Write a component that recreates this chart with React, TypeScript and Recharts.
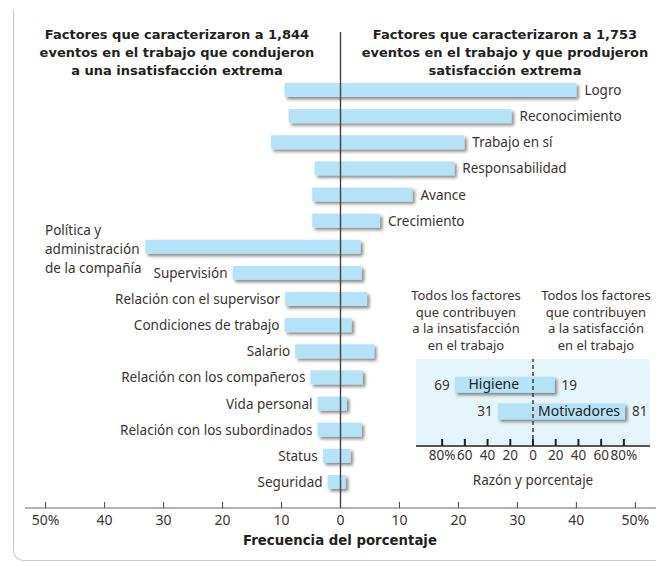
import React from 'react';
import { BarChart, Bar, XAxis, YAxis, ReferenceLine, LabelList, CartesianGrid } from 'recharts';

const FONT = '"Noto Sans", sans-serif';
const TITLE_FONT = '"DejaVu Sans", sans-serif';
const TEXT = '#3a3431';
const BAR = '#b5e2f6';

const factors = [
  'Logro',
  'Reconocimiento',
  'Trabajo en sí',
  'Responsabilidad',
  'Avance',
  'Crecimiento',
  'Política y administración de la compañía',
  'Supervisión',
  'Relación con el supervisor',
  'Condiciones de trabajo',
  'Salario',
  'Relación con los compañeros',
  'Vida personal',
  'Relación con los subordinados',
  'Status',
  'Seguridad',
];
// % of events leading to extreme dissatisfaction (drawn to the left)
const dissatisfaction = [9.5, 8.8, 11.8, 4.4, 4.8, 4.8, 33.1, 18.3, 9.4, 9.5, 7.7, 5.1, 3.9, 3.9, 3.0, 2.2];
// % of events leading to extreme satisfaction (drawn to the right)
const satisfaction = [40, 29, 21, 19.3, 12.2, 6.7, 3.4, 3.6, 4.5, 1.9, 5.7, 3.8, 1.1, 3.6, 1.7, 0.9];
const labelSide = [
  'right', 'right', 'right', 'right', 'right', 'right',
  'wrap', 'left', 'left', 'left', 'left', 'left', 'left', 'left', 'left', 'left',
];
const wrappedLabel = ['Política y', 'administración', 'de la compañía'];
const mainTicks = [-50, -40, -30, -20, -10, 0, 10, 20, 30, 40, 50];

const summaryGroups = ['Higiene', 'Motivadores'];
const summaryDis = [69, 31];
const summarySat = [19, 81];
const summaryTicks = [-80, -60, -40, -20, 0, 20, 40, 60, 80];

const leftTitle = ['Factores que caracterizaron a 1,844', 'eventos en el trabajo que condujeron', 'a una insatisfacción extrema'];
const rightTitle = ['Factores que caracterizaron a 1,753', 'eventos en el trabajo y que produjeron', 'satisfacción extrema'];
const leftNote = ['Todos los factores', 'que contribuyen', 'a la insatisfacción', 'en el trabajo'];
const rightNote = ['Todos los factores', 'que contribuyen', 'a la satisfacción', 'en el trabajo'];

const mainData = factors.map((name, i) => ({
  name,
  range: [-dissatisfaction[i], satisfaction[i]],
}));

const summaryData = summaryGroups.map((name, i) => ({
  name,
  range: [-summaryDis[i], summarySat[i]],
}));

const box = (props: any) => {
  const vb = props.viewBox && props.viewBox.width !== undefined ? props.viewBox : props;
  return { x: Number(vb.x), y: Number(vb.y), width: Number(vb.width), height: Number(vb.height) };
};

const ShadowBar = (props: any) => {
  const { x, y, width, height } = props;
  return <rect x={x} y={y} width={width} height={height} fill={BAR} filter="url(#barShadow)" />;
};

const FactorLabel = (props: any) => {
  const { x, y, width, height } = box(props);
  const i = factors.indexOf(props.value);
  const cy = y + height / 2;
  const common = { fontFamily: FONT, fontSize: 13.5, fill: TEXT, dominantBaseline: 'central' as const };
  if (labelSide[i] === 'right') {
    return <text x={x + width + 8} y={cy} {...common}>{props.value}</text>;
  }
  if (labelSide[i] === 'wrap') {
    return (
      <text x={45} y={cy} {...common}>
        {wrappedLabel.map((l, k) => (
          <tspan key={k} x={45} y={cy - 17 + k * 19}>{l}</tspan>
        ))}
      </text>
    );
  }
  return <text x={x - 5} y={cy} textAnchor="end" {...common}>{props.value}</text>;
};

const SummaryLabel = (props: any) => {
  const { x, y, width, height } = box(props);
  const i = summaryGroups.indexOf(props.value);
  const cy = y + height / 2;
  const dis = summaryDis[i];
  const sat = summarySat[i];
  const zero = x + (width * dis) / (dis + sat);
  const mid = dis > sat ? (x + zero) / 2 : (zero + x + width) / 2;
  const common = { fontFamily: FONT, fontSize: 13.5, fill: TEXT, dominantBaseline: 'central' as const };
  return (
    <g>
      <text x={x - 5} y={cy} textAnchor="end" {...common}>{dis}</text>
      <text x={mid} y={cy - 1} textAnchor="middle" {...common} fontSize={14} fill="#222">{props.value}</text>
      <text x={x + width + 7} y={cy} {...common}>{sat}</text>
    </g>
  );
};

const MainTick = (props: any) => {
  const v = props.payload.value;
  const label = Math.abs(v) === 50 ? '50%' : String(Math.abs(v));
  return (
    <text x={props.x} y={props.y + 23} textAnchor="middle" fontFamily={FONT} fontSize={14} fill={TEXT}>
      {label}
    </text>
  );
};

const SummaryTick = (props: any) => {
  const v = props.payload.value;
  const label = Math.abs(v) === 80 ? '80%' : String(Math.abs(v));
  return (
    <text x={props.x} y={props.y + 21} textAnchor="middle" fontFamily={FONT} fontSize={13.5} fill={TEXT}>
      {label}
    </text>
  );
};

const Lines = ({ lines, x, y, step, bold, size, font }: any) => (
  <text x={x} y={y} textAnchor="middle" fontFamily={font || FONT} fontSize={size} fontWeight={bold ? 700 : 400} fill={bold ? '#231f20' : TEXT}>
    {lines.map((l: string, k: number) => (
      <tspan key={k} x={x} y={y + k * step}>{l}</tspan>
    ))}
  </text>
);

export default function App() {
  return (
    <div style={{ position: 'absolute', left: 0, top: 0, width: 656, height: 563, background: '#fff', overflow: 'hidden' }}>
      <svg width={0} height={0} style={{ position: 'absolute' }}>
        <defs>
          <filter id="barShadow" x="-50%" y="-60%" width="200%" height="260%">
            <feDropShadow dx="2.5" dy="2.5" stdDeviation="1.4" floodColor="#000" floodOpacity="0.45" />
          </filter>
        </defs>
      </svg>
      <div
        style={{
          position: 'absolute', left: 13, top: 10, width: 680, height: 550,
          borderLeft: '1.5px solid #c8c8c8', borderBottom: '1.5px solid #c8c8c8', borderBottomLeftRadius: 10,
        }}
      />
      <div style={{ position: 'absolute', left: 0, top: 0 }}>
        <BarChart width={656} height={563} data={mainData} layout="vertical" margin={{ top: 32, right: 0, bottom: 25, left: 25 }} barSize={14}>
          <XAxis
            type="number"
            domain={[-53.5, 53.5]}
            ticks={mainTicks}
            allowDataOverflow
            interval={0}
            height={30}
            axisLine={{ stroke: '#666', strokeWidth: 1.2 }}
            tickLine={{ stroke: '#444' }}
            tickSize={-6}
            tickMargin={0}
            tick={<MainTick />}
          />
          <YAxis type="category" dataKey="name" hide padding={{ top: 45, bottom: 13 }} />
          <Bar dataKey="range" shape={<ShadowBar />} isAnimationActive={false}>
            <LabelList dataKey="name" content={<FactorLabel />} />
          </Bar>
          <ReferenceLine x={0} stroke="#444" strokeWidth={1.4} />
        </BarChart>
      </div>
      <div style={{ position: 'absolute', left: 416, top: 359 }}>
        <BarChart width={240} height={130} data={summaryData} layout="vertical" margin={{ top: 0, right: 6, bottom: 13, left: 0 }} barSize={16}>
          <CartesianGrid fill="#e6f4fb" horizontal={false} vertical={false} />
          <XAxis
            type="number"
            domain={[-103, 103]}
            ticks={summaryTicks}
            allowDataOverflow
            interval={0}
            height={30}
            axisLine={{ stroke: '#222', strokeWidth: 1.5 }}
            tickLine={{ stroke: '#222', strokeWidth: 2 }}
            tickSize={-7}
            tickMargin={0}
            tick={<SummaryTick />}
          />
          <YAxis type="category" dataKey="name" hide padding={{ top: 12.7, bottom: 21 }} />
          <ReferenceLine x={0} stroke="#333" strokeWidth={1.4} strokeDasharray="4 3" />
          <Bar dataKey="range" shape={<ShadowBar />} isAnimationActive={false}>
            <LabelList dataKey="name" content={<SummaryLabel />} />
          </Bar>
        </BarChart>
      </div>
      <svg width={656} height={563} style={{ position: 'absolute', left: 0, top: 0, pointerEvents: 'none' }}>
        <Lines lines={leftTitle} x={177} y={39} step={18} bold size={13} font={TITLE_FONT} />
        <Lines lines={rightTitle} x={505} y={39} step={18} bold size={13} font={TITLE_FONT} />
        <Lines lines={leftNote} x={466} y={300} step={16.7} size={13} />
        <Lines lines={rightNote} x={596} y={300} step={16.7} size={13} />
        <Lines lines={['Razón y porcentaje']} x={533} y={485} step={0} size={13.5} />
        <Lines lines={['Frecuencia del porcentaje']} x={340} y={545} step={0} bold size={13.3} font={TITLE_FONT} />
      </svg>
    </div>
  );
}
